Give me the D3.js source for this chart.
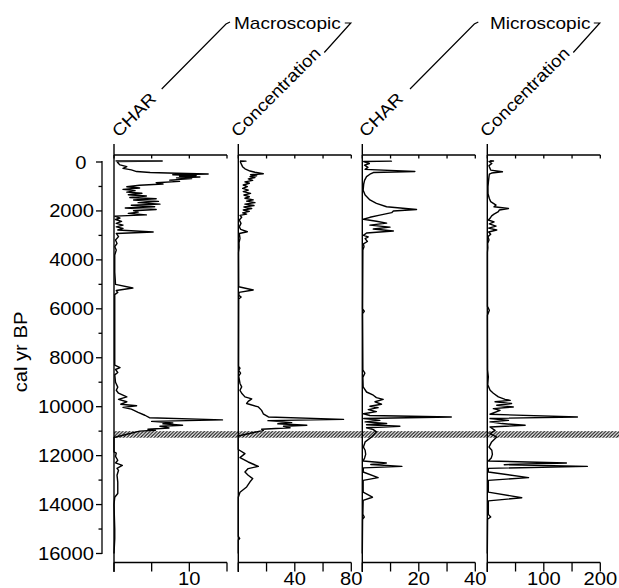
<!DOCTYPE html>
<html>
<head>
<meta charset="utf-8">
<script src="https://cdn.jsdelivr.net/npm/d3@7"></script>
<style>
  body { margin: 0; background: #fff; }
  svg { display: block; }
  text { font-family: "Liberation Sans", Arial, Helvetica, sans-serif; fill: #000; }
</style>
</head>
<body>
<svg id="chart" width="619" height="588"></svg>
<script>
// ---- charcoal records: age (cal yr BP) and value for each series ----
const macroCharAge = [-45,-40,-20,60,120,190,260,320,390,430,460,490,520,550,580,610,650,680,740,790,850,900,950,1010,1060,1120,1170,1230,1280,1340,1390,1450,1500,1550,1610,1660,1720,1770,1830,1880,1940,1990,2050,2100,2160,2210,2290,2350,2430,2510,2580,2650,2710,2780,2860,2920,3050,3190,3330,3460,3600,3800,4500,5000,5150,5250,5330,5420,6500,8300,8400,8480,8600,8700,9000,9200,9330,9450,9600,9700,9800,9900,9960,10030,10100,10230,10350,10450,10540,10600,10660,10700,10760,10800,10870,10920,10960,11000,11260,11850,11900,12030,12190,12300,12400,12520,12600,12800,13080,13300,13550,13700,14000,15000,15400,16000];
const macroCharVal = [0.2,6.4,0.4,0.6,0.8,1.7,1.2,2.3,3.0,4.8,8.3,12.5,7.8,10.9,8.7,11.4,8.3,10.3,7.4,8.7,5.6,6.5,3.4,1.7,3.4,1.2,2.8,1.7,3.7,1.9,4.3,2.1,5.6,2.6,5.9,3.2,6.1,2.3,5.4,1.5,5.6,2.6,3.2,1.9,4.3,0.1,0.8,0.2,1.0,0.3,1.2,0.3,1.2,0.5,5.2,0.3,0.6,0.2,0.4,0.1,0.3,0.1,0.1,0.2,2.5,0.3,0.5,0.1,0.1,0.1,0.8,0.2,0.5,0.1,0.2,0.5,0.3,0.6,1.7,0.6,1.7,0.9,3.0,1.2,2.3,3.2,4.1,4.7,14.4,5.0,7.8,6.5,9.1,6.1,7.3,4.5,5.5,3.4,0,0,0.3,0.2,0.5,0.2,1.1,0.4,0.6,0.4,0.5,0.5,0.5,0.1,0,0.1,0.1,0];

const macroConcAge = [-45,-35,-20,30,190,280,370,420,480,520,560,600,640,690,750,810,870,940,1010,1080,1150,1210,1280,1350,1420,1480,1550,1600,1660,1720,1780,1840,1900,1960,2020,2080,2130,2180,2260,2370,2510,2650,2750,2850,2920,3120,3300,3500,3700,5100,5230,5330,5450,5520,5600,8350,8430,8520,8630,8750,9050,9190,9330,9450,9600,9680,9780,9870,10010,10150,10290,10420,10520,10570,10650,10700,10760,10800,10860,10920,10970,11200,11750,11920,12080,12260,12440,12530,12670,12800,12940,13070,13280,13500,13700,15300,15390,15450,16000];
const macroConcVal = [1.2,5.4,1.5,1.7,3.0,4.7,8.3,11.8,17.7,8.7,13.0,8.3,11.8,7.1,10.2,4.7,7.8,3.5,6.4,3.1,7.1,3.5,8.7,4.0,7.8,4.7,10.6,5.9,11.8,4.7,11.1,4.0,9.5,3.5,7.8,3.1,5.9,1.2,2.4,0.7,1.9,0.7,1.7,6.4,0.7,1.2,0.5,0.6,0.2,0.3,10.6,0.5,0.4,2.0,0.3,0.2,1.2,0.3,1.6,0.3,1.2,2.4,1.2,2.4,4.7,9.5,7.0,5.9,14.2,16.5,17.7,21.3,74.5,21.0,37.8,28,48.5,32,36.6,16.5,17.7,0,0,4.7,1.2,7.0,14.2,7.0,4.7,7.0,10.2,8.3,5.9,1.2,0,0,1.0,0,0];

const microCharAge = [-50,-35,-20,60,130,220,300,390,430,500,600,750,900,1150,1350,1550,1690,1830,1940,2000,2070,2170,2260,2340,2420,2500,2580,2660,2740,2820,2900,3000,3060,3130,3250,3350,3460,3600,6000,6100,6200,8500,8630,8800,9190,9400,9530,9630,9700,9800,9900,9980,10040,10120,10200,10290,10360,10420,10480,10560,10620,10690,10740,10800,10860,10940,11030,11240,11440,11650,11780,11950,12100,12220,12300,12360,12440,12500,12670,12900,13010,13490,13700,13830,14400,14510,14600,16000];
const microCharVal = [10.3,10.3,0.5,2.5,0.8,2.0,1.0,18.6,3.9,2.7,1.5,0.8,0.5,0.3,1.0,2.7,5.0,8.6,19.2,11.0,10.4,6.2,2.7,0.4,5.0,8.6,2.7,9.8,3.9,11.0,1.5,0.4,2.1,1.0,1.8,0.4,0.6,0.2,0.1,0.7,0.1,0.2,0.9,0.2,0.3,1.5,3.9,5.0,7.4,4.5,6.8,2.7,5.6,2.1,5.0,0.4,2.7,31.5,0.5,6.2,1.0,8.6,1.5,13.3,1.5,3.9,5.0,3.3,1.0,0.4,1.0,1.2,0.8,0.3,8.5,3.0,14.0,0.4,0.3,5.6,0.3,0.3,3.6,0.3,0.2,0.7,0.1,0];

const microConcAge = [-50,-40,-20,60,150,190,330,400,450,500,600,800,1010,1300,1490,1620,1760,1830,1900,1960,2030,2130,2200,2300,2370,2450,2530,2620,2700,2780,2860,2950,3050,3190,3330,3500,3700,5900,6060,6260,8500,8780,9100,9330,9450,9600,9700,9740,9800,9870,9940,10010,10080,10150,10310,10420,10480,10560,10620,10690,10760,10830,10970,11100,11240,11440,11650,11780,11950,12100,12220,12300,12370,12440,12520,12670,12900,13010,13490,13720,13850,14400,14510,14600,16000];
const microConcVal = [5,11,3,8,3,3.6,6,26.8,7.7,3.6,3.0,2.0,1.2,1.3,3.6,6.0,15.5,11.9,37.5,21.4,19.6,11.9,7.7,4.8,1.8,11.9,3.6,15.5,2.4,16.7,2.4,6.0,1.2,3.0,0.6,1.0,0.3,0.3,3.6,0.3,0.5,1.8,0.8,5.0,10.7,19.6,31.5,40.5,13.7,43,16.7,46,10.7,22.6,4.8,159.5,4.8,37.5,4.8,25.6,67,4.8,13.7,4.8,16.7,7.7,3.0,8.0,9.0,7.0,1.8,140,30,177,1.8,1.8,73,1.8,1.8,61,1.8,1.8,6,0.5,0];

// ---- panel metadata ----
const panelTitles = ["CHAR", "Concentration", "CHAR", "Concentration"];
const groupTitles = ["Macroscopic", "Microscopic"];
const xDomains = [[0, 15], [0, 80], [0, 40], [0, 200]];
const xTickSteps = [5, 20, 10, 50];
const xTickLabels = [[10], [40, 80], [20, 40], [100, 200]];
const yTickValues = d3.range(0, 16001, 1000);
const yLabelValues = d3.range(0, 16001, 2000);
const yAxisTitle = "cal yr BP";
const hiatusAges = [11000, 11270];

const series = [
  { age: macroCharAge, val: macroCharVal },
  { age: macroConcAge, val: macroConcVal },
  { age: microCharAge, val: microCharVal },
  { age: microConcAge, val: microConcVal }
];

// ---- layout ----
const svg = d3.select("#chart");
const panelLeft = [114, 238.3, 362.3, 487.3];
const panelWidth = 113;
const axisTopY = 155, axisBottomY = 562.5;
const frameTop = 144, frameBottom = 572;
const textStretch = 1.12;

const y = d3.scaleLinear().domain([0, 16000]).range([162, 553.5]);

function addText(parent, str, x, yy, rot, anchor, size) {
  return parent.append("text")
    .attr("transform", `translate(${x},${yy}) rotate(${rot}) scale(${textStretch},1)`)
    .attr("text-anchor", anchor)
    .style("font-size", size + "px")
    .text(str);
}

// hatch pattern for the hiatus band
const defs = svg.append("defs");
const pat = defs.append("pattern")
  .attr("id", "hatch").attr("patternUnits", "userSpaceOnUse")
  .attr("width", 3.4).attr("height", 3.4);
pat.append("path")
  .attr("d", "M-1,1 L1,-1 M0,3.4 L3.4,0 M2.4,4.4 L4.4,2.4")
  .attr("stroke", "#111").attr("stroke-width", 1.2);

// ---- age axis ----
const yAxisX = 102;
const yg = svg.append("g");
yg.append("line").attr("x1", yAxisX).attr("x2", yAxisX)
  .attr("y1", y(0) - 1).attr("y2", y(16000) + 0.5)
  .attr("stroke", "#000").attr("stroke-width", 1.3);
yg.selectAll("line.tick").data(yTickValues).join("line")
  .attr("class", "tick")
  .attr("x1", d => yLabelValues.includes(d) ? yAxisX - 6 : yAxisX - 3.5)
  .attr("x2", yAxisX)
  .attr("y1", d => y(d)).attr("y2", d => y(d))
  .attr("stroke", "#000").attr("stroke-width", 1.3);
yLabelValues.forEach(v => {
  addText(yg, String(v), v === 0 ? 86.5 : 94, y(v) + 6.5, 0, "end", 18);
});
addText(yg, yAxisTitle, 27, 352, -90, "middle", 18);

// ---- hiatus band ----
svg.append("rect")
  .attr("x", panelLeft[0]).attr("width", 619 - panelLeft[0])
  .attr("y", y(hiatusAges[0])).attr("height", y(hiatusAges[1]) - y(hiatusAges[0]))
  .attr("fill", "url(#hatch)");

// ---- panels ----
series.forEach((s, i) => {
  const L = panelLeft[i];
  const x = d3.scaleLinear().domain(xDomains[i]).range([L, L + panelWidth]);
  const ticks = d3.range(xDomains[i][0], xDomains[i][1] + 0.001, xTickSteps[i]);
  const g = svg.append("g");

  // profile curve
  const pts = s.age.map((a, k) => [s.val[k], a]);
  g.append("path")
    .attr("d", d3.line().x(d => x(d[0])).y(d => y(d[1]))(pts))
    .attr("fill", "none").attr("stroke", "#000")
    .attr("stroke-width", 1.4).attr("stroke-linejoin", "round");

  // frame: left rule, top and bottom value axes
  g.append("line").attr("x1", L).attr("x2", L).attr("y1", frameTop).attr("y2", frameBottom)
    .attr("stroke", "#000").attr("stroke-width", 1.4);
  [axisTopY, axisBottomY].forEach(ay => {
    g.append("line").attr("x1", L).attr("x2", x(xDomains[i][1])).attr("y1", ay).attr("y2", ay)
      .attr("stroke", "#000").attr("stroke-width", 1.3);
  });
  g.selectAll("line.ttick").data(ticks).join("line").attr("class", "ttick")
    .attr("x1", d => x(d)).attr("x2", d => x(d))
    .attr("y1", axisTopY).attr("y2", axisTopY + 3.5)
    .attr("stroke", "#000").attr("stroke-width", 1.3);
  g.selectAll("line.btick").data(ticks).join("line").attr("class", "btick")
    .attr("x1", d => x(d)).attr("x2", d => x(d))
    .attr("y1", axisBottomY).attr("y2", axisBottomY + 9)
    .attr("stroke", "#000").attr("stroke-width", 1.3);
  xTickLabels[i].forEach(v => addText(g, String(v), x(v), 585, 0, "middle", 18));
});

// ---- slanted column titles and group brackets ----
const titleX = [119, 238, 366, 487];
panelTitles.forEach((t, i) => addText(svg, t, titleX[i], 138, -45, "start", 17));

const groupTitleX = [234, 490];
groupTitles.forEach((t, gi) => {
  addText(svg, t, groupTitleX[gi], 29.3, 0, "start", 17);
  const Lc = panelLeft[gi * 2], Rc = panelLeft[gi * 2 + 1];
  const lp = d3.path();
  lp.moveTo(Lc + 47.7, 89); lp.lineTo(Lc + 112, 24); lp.lineTo(Lc + 116, 22);
  const rp = d3.path();
  rp.moveTo(Rc + 86, 52.5); rp.lineTo(Rc + 112.5, 23); rp.lineTo(Rc + 106.5, 23);
  [lp, rp].forEach(p => svg.append("path").attr("d", p.toString())
    .attr("fill", "none").attr("stroke", "#000").attr("stroke-width", 1.2));
});
</script>
</body>
</html>
